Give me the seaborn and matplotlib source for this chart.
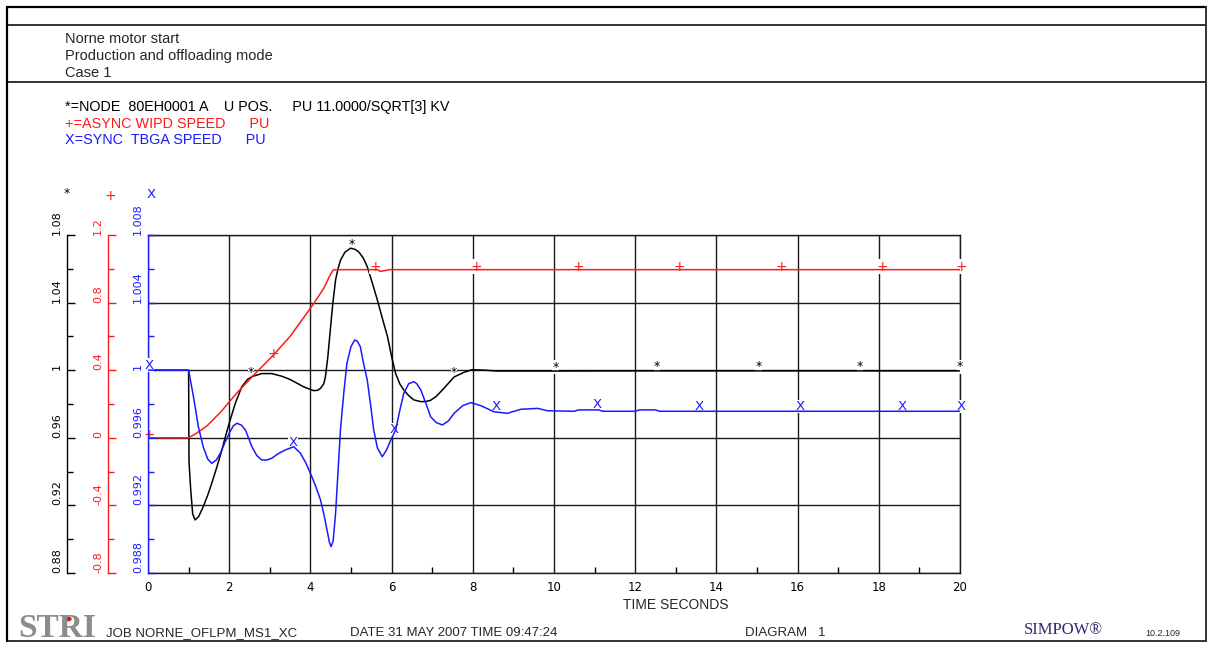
import numpy as np
import pandas as pd
import matplotlib
matplotlib.use("Agg")
import matplotlib.pyplot as plt
from matplotlib.lines import Line2D
from matplotlib.patches import Circle
from matplotlib.ticker import MultipleLocator
import seaborn as sns

# ---------------------------------------------------------------- data
# Node voltage U POS. (PU) at 80EH0001 A
node_t = [0.0, 1.0, 1.01, 1.05, 1.1, 1.16, 1.25, 1.36, 1.47, 1.57, 1.7, 1.82, 1.91,
          2.0, 2.15, 2.31, 2.45, 2.56, 2.8, 3.05, 3.3, 3.5, 3.67, 3.85, 4.08, 4.18,
          4.25, 4.33, 4.37, 4.43, 4.49, 4.55, 4.62, 4.68, 4.74, 4.85, 4.99, 5.1,
          5.19, 5.3, 5.4, 5.52, 5.65, 5.78, 5.9, 6.0, 6.1, 6.2, 6.3, 6.42, 6.55,
          6.72, 6.85, 6.96, 7.1, 7.29, 7.54, 7.79, 7.98, 8.3, 8.6, 10.0, 12.0,
          14.0, 16.0, 18.0, 20.0]
node_u = [1.0, 1.0, 0.946, 0.930, 0.915, 0.9114, 0.9135, 0.9192, 0.926, 0.9331,
          0.943, 0.9528, 0.961, 0.9686, 0.9804, 0.9902, 0.9945, 0.9962, 0.998,
          0.998, 0.9964, 0.9945, 0.9923, 0.990, 0.9879, 0.9881, 0.9893, 0.992,
          0.9962, 1.008, 1.0238, 1.039, 1.0534, 1.060, 1.065, 1.0698, 1.0722,
          1.0715, 1.070, 1.0665, 1.0613, 1.052, 1.0415, 1.030, 1.0198, 1.008,
          0.998, 0.992, 0.9883, 0.985, 0.9824, 0.9814, 0.9815, 0.9822, 0.9845,
          0.9893, 0.996, 0.9988, 1.0003, 1.0, 0.9995, 0.9995, 0.9996, 0.9996,
          0.9996, 0.9996, 0.9996]

# Asynchronous motor WIPD speed (PU)
async_t = [0.0, 1.0, 1.2, 1.45, 1.8, 2.18, 2.6, 3.09, 3.5, 4.07, 4.33, 4.48, 4.56,
           4.62, 5.65, 5.72, 5.85, 5.95, 20.0]
async_speed = [0.0, 0.0, 0.028, 0.07, 0.155, 0.263, 0.37, 0.49, 0.60, 0.79, 0.885,
               0.96, 0.993, 0.995, 0.995, 0.985, 0.99, 0.995, 0.995]

# Synchronous machine TBGA speed (PU)
sync_t = [0.0, 1.0, 1.12, 1.24, 1.36, 1.47, 1.57, 1.68, 1.78, 1.9, 2.0, 2.1, 2.19,
          2.3, 2.4, 2.56, 2.68, 2.8, 2.92, 3.05, 3.2, 3.38, 3.59, 3.75, 3.88, 4.0,
          4.12, 4.25, 4.33, 4.41, 4.47, 4.51, 4.56, 4.62, 4.68, 4.74, 4.82, 4.9,
          5.0, 5.09, 5.16, 5.23, 5.3, 5.4, 5.48, 5.56, 5.65, 5.77, 5.88, 5.98, 6.1,
          6.2, 6.3, 6.42, 6.55, 6.62, 6.72, 6.85, 6.96, 7.1, 7.25, 7.4, 7.54, 7.75,
          7.95, 8.2, 8.52, 8.85, 9.19, 9.6, 9.84, 10.5, 10.6, 11.1, 11.2, 12.0,
          12.1, 12.5, 12.6, 20.0]
sync_speed = [1.0, 1.0, 0.99843, 0.99666, 0.99547, 0.99475, 0.99449, 0.99468,
              0.99508, 0.99575, 0.99627, 0.99670, 0.99686, 0.99675, 0.99646,
              0.99547, 0.99495, 0.99469, 0.99468, 0.99479, 0.99505, 0.99528,
              0.99547, 0.99510, 0.99455, 0.9939, 0.9932, 0.99232, 0.9915, 0.99054,
              0.9898, 0.98956, 0.9899, 0.99153, 0.9940, 0.99646, 0.9986, 1.00041,
              1.0014, 1.00179, 1.0017, 1.00139, 1.0005, 0.99942, 0.9980, 0.99646,
              0.9954, 0.99488, 0.9953, 0.99587, 0.99646, 0.9976, 0.99863, 0.9992,
              0.99932, 0.9992, 0.99883, 0.9980, 0.99725, 0.9969, 0.99676, 0.9970,
              0.99745, 0.9979, 0.99808, 0.9979, 0.99754, 0.99745, 0.99769, 0.99774,
              0.99760, 0.99757, 0.99765, 0.99765, 0.99757, 0.99757, 0.99765,
              0.99765, 0.99757, 0.99757]

# Curve identification symbols
node_mark_t = [2.54, 5.03, 7.54, 10.04, 12.54, 15.04, 17.54, 20.0]
node_mark_u = [0.9962, 1.0722, 0.996, 0.9995, 0.9996, 0.9996, 0.9996, 0.9996]
async_mark_t = [0.0, 3.06, 5.56, 8.06, 10.56, 13.06, 15.56, 18.06, 20.0]
async_mark_v = [0.0, 0.48, 0.995, 0.995, 0.995, 0.995, 0.995, 0.995, 0.995]
sync_mark_t = [0.0, 3.55, 6.05, 8.55, 11.05, 13.55, 16.05, 18.55, 20.0]
sync_mark_v = [1.0, 0.99545, 0.9962, 0.99753, 0.99765, 0.99757, 0.99757,
               0.99757, 0.99757]

# Axis ticks
time_ticks = [0, 2, 4, 6, 8, 10, 12, 14, 16, 18, 20]
time_labels = ["0", "2", "4", "6", "8", "10", "12", "14", "16", "18", "20"]
node_ticks = [0.88, 0.92, 0.96, 1.00, 1.04, 1.08]
node_labels = ["0.88", "0.92", "0.96", "1", "1.04", "1.08"]
async_ticks = [-0.8, -0.4, 0.0, 0.4, 0.8, 1.2]
async_labels = ["-0.8", "-0.4", "0", "0.4", "0.8", "1.2"]
sync_ticks = [0.988, 0.992, 0.996, 1.000, 1.004, 1.008]
sync_labels = ["0.988", "0.992", "0.996", "1", "1.004", "1.008"]

# ---------------------------------------------------------------- style
sns.set_style("white")
plt.rcParams["font.family"] = ["Liberation Sans", "DejaVu Sans"]

W, H = 1212, 652
PX = 72.0 / 100.0          # points per pixel at dpi=100
RED = "#ff1a1a"
BLUE = "#1a1aff"
TICK_FONT = "DejaVu Sans"


def fx(px):
    return px / W


def fy(py):
    return 1.0 - py / H


fig = plt.figure(figsize=(W / 100, H / 100), dpi=100)
fig.patch.set_facecolor("white")

ax_node = fig.add_axes([fx(148), fy(573), (960 - 148) / W, (573 - 235) / H])
ax_async = ax_node.twinx()
ax_sync = ax_node.twinx()

# curves
sns.lineplot(x=node_t, y=node_u, ax=ax_node, color="black", lw=1.1,
             estimator=None, errorbar=None, sort=False, zorder=3)
sns.lineplot(x=async_t, y=async_speed, ax=ax_async, color=RED, lw=1.1,
             estimator=None, errorbar=None, sort=False, zorder=3)
sns.lineplot(x=sync_t, y=sync_speed, ax=ax_sync, color=BLUE, lw=1.1,
             estimator=None, errorbar=None, sort=False, zorder=3)

ax_node.set_xlim(0, 20)
ax_node.set_ylim(0.88, 1.08)
ax_async.set_ylim(-0.8, 1.2)
ax_sync.set_ylim(0.988, 1.008)

# frame and grid on the base axes
ax_node.set_axisbelow(True)
ax_node.grid(True, which="major", color="#1a1a1a", lw=1.0)
for side in ("top", "right", "bottom"):
    ax_node.spines[side].set_color("#1a1a1a")
    ax_node.spines[side].set_linewidth(1.0)

ax_node.set_xticks(time_ticks, time_labels, fontsize=8.5, family=TICK_FONT)
ax_node.xaxis.set_minor_locator(MultipleLocator(1))
ax_node.tick_params(axis="x", which="major", length=0, pad=6, colors="black")
ax_node.tick_params(axis="x", which="minor", direction="in", length=4,
                    width=1, color="black", bottom=True)
ax_node.set_xlabel("")
ax_node.set_ylabel("")


def style_value_axis(ax, ticks, labels, color, minor_step, outward_px):
    for side in ("top", "right", "bottom"):
        ax.spines[side].set_visible(False)
    ax.spines["left"].set_visible(True)
    ax.spines["left"].set_position(("outward", outward_px * PX))
    ax.spines["left"].set_color(color)
    ax.spines["left"].set_linewidth(1.0)
    ax.yaxis.tick_left()
    ax.set_yticks(ticks, labels, rotation=90, va="bottom", ha="right",
                  fontsize=8, family=TICK_FONT, color=color)
    ax.yaxis.set_minor_locator(MultipleLocator(minor_step))
    ax.tick_params(axis="y", which="major", direction="in", length=6, width=1,
                   color=color, pad=3.5, left=True, right=False)
    ax.tick_params(axis="y", which="minor", direction="in", length=4, width=1,
                   color=color, left=True, right=False)
    ax.set_ylabel("")


style_value_axis(ax_node, node_ticks, node_labels, "black", 0.02, 81)
style_value_axis(ax_async, async_ticks, async_labels, RED, 0.2, 40)
style_value_axis(ax_sync, sync_ticks, sync_labels, BLUE, 0.002, 0)
ax_node.spines["top"].set_visible(True)
ax_node.spines["right"].set_visible(True)
ax_node.spines["bottom"].set_visible(True)


def put_marks(ax, ts, vs, ch, color, dx_px, dy_px, size):
    for t, v in zip(ts, vs):
        ax.annotate(ch, (t, v), xytext=(dx_px * PX, dy_px * PX),
                    textcoords="offset points", ha="center", va="center",
                    color=color, fontsize=size, family=TICK_FONT, zorder=2.6,
                    annotation_clip=False,
                    bbox=dict(boxstyle="square,pad=0.02", fc="white", ec="none"))


put_marks(ax_node, node_mark_t, node_mark_u, "*", "black", 0, 4, 9)
put_marks(ax_async, async_mark_t, async_mark_v, "+", RED, 1.5, 3, 10)
put_marks(ax_sync, sync_mark_t, sync_mark_v, "X", BLUE, 1, 5, 9.5)

# symbols above the three value axes
fig.text(fx(67), fy(193), "*", color="black", ha="center", va="center",
         fontsize=9, family=TICK_FONT)
fig.text(fx(110), fy(196), "+", color=RED, ha="center", va="center",
         fontsize=10, family=TICK_FONT)
fig.text(fx(151), fy(195), "X", color=BLUE, ha="center", va="center",
         fontsize=9.5, family=TICK_FONT)

# ---------------------------------------------------------------- sheet frame
def hline(y, x0=7, x1=1206, lw=1.4, color="#333333"):
    fig.add_artist(Line2D([fx(x0), fx(x1)], [fy(y), fy(y)],
                          transform=fig.transFigure, color=color, lw=lw))


def vline(x, y0=7, y1=641, lw=1.4, color="#333333"):
    fig.add_artist(Line2D([fx(x), fx(x)], [fy(y0), fy(y1)],
                          transform=fig.transFigure, color=color, lw=lw))


hline(7, lw=1.6, color="black")
hline(25)
hline(82)
hline(641)
vline(7, lw=1.6, color="black")
vline(1206)

# heading
fs_head = 10.5
fig.text(fx(65), fy(43), "Norne motor start", fontsize=fs_head, va="baseline")
fig.text(fx(65), fy(60), "Production and offloading mode", fontsize=fs_head,
         va="baseline")
fig.text(fx(65), fy(77), "Case 1", fontsize=fs_head, va="baseline")

# curve legend
fig.text(fx(65), fy(111), "*=NODE  80EH0001 A    U POS.     PU 11.0000/SQRT[3] KV",
         fontsize=10.4, va="baseline", color="black")
fig.text(fx(65), fy(128), "+=ASYNC WIPD SPEED      PU", fontsize=10.4,
         va="baseline", color=RED)
fig.text(fx(65), fy(144), "X=SYNC  TBGA SPEED      PU", fontsize=10.4,
         va="baseline", color=BLUE)

# axis title and footer
fig.text(fx(676), fy(609), "TIME SECONDS", fontsize=10, ha="center",
         va="baseline")
fig.text(fx(18), fy(637), "STRI", fontsize=24, color="#8c8c8c",
         fontweight="bold", family=["Liberation Serif"], va="baseline")
fig.add_artist(Circle((fx(68), fy(619)), 3.0 / W, transform=fig.transFigure,
                      color="#e01010"))
fig.text(fx(106), fy(636), "JOB NORNE_OFLPM_MS1_XC", fontsize=9.5,
         va="baseline")
fig.text(fx(350), fy(636), "DATE 31 MAY 2007 TIME 09:47:24", fontsize=9.5,
         va="baseline")
fig.text(fx(745), fy(636), "DIAGRAM   1", fontsize=9.5, va="baseline")
fig.text(fx(1024), fy(634), "SIMPOW\u00ae", fontsize=12, color="#2b2b6b",
         family=["Liberation Serif"], va="baseline")
fig.text(fx(1145), fy(636), "10.2.109", fontsize=6.5, va="baseline")

fig.savefig("out.png", dpi=100, facecolor="white")
